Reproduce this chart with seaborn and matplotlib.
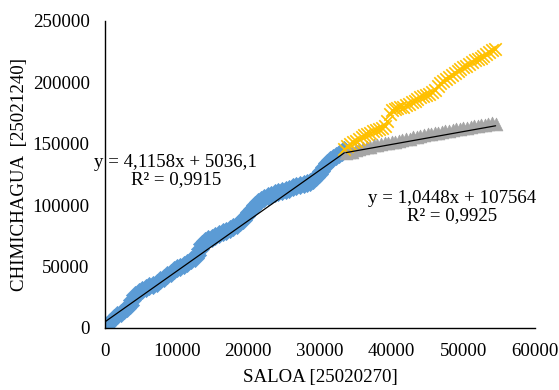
import matplotlib
matplotlib.use("Agg")
import matplotlib.pyplot as plt
import seaborn as sns
import pandas as pd
import numpy as np

# ---- data ----
blue_x = [0, 300, 700, 1200, 1700, 2200, 2700, 3100, 3500, 3800, 4200, 4700, 5200, 5700,
          6200, 6700, 7200, 7700, 8200, 8700, 9200, 9600, 10000, 10500, 11000, 11500,
          12000, 12500, 12900, 13200, 13500, 13900, 14400, 14900, 15400, 15900, 16400,
          16900, 17400, 17900, 18400, 18900, 19300, 19700, 20100, 20500, 20900, 21300,
          21700, 22200, 22700, 23200, 23700, 24200, 24700, 25200, 25700, 26200, 26700,
          27200, 27700, 28200, 28600, 29000, 29400, 29800, 30200, 30600, 31000, 31400,
          31800, 32200, 32600, 33000, 33400]
blue_y = [0, 2500, 5000, 8000, 10500, 12500, 14500, 16500, 19000, 23000, 26500, 29000,
          31000, 32500, 34000, 35000, 37000, 39000, 41000, 43000, 45000, 47500, 49000,
          49500, 51000, 53000, 55000, 57000, 59500, 64000, 68000, 70500, 72000, 73500,
          75000, 76500, 78000, 79000, 80500, 82500, 84000, 86000, 88000, 91000, 94000,
          97000, 100000, 102500, 104500, 106000, 107500, 108500, 109500, 111000, 111500,
          112500, 113000, 114500, 115500, 116500, 117500, 118000, 118500, 120000, 122500,
          125000, 128000, 131000, 134000, 136500, 138500, 140000, 141500, 143000, 144500]

grey_x = [33600, 34000, 34500, 35000, 35500, 36000, 36500, 37000, 37500, 38000, 38500,
          39000, 39500, 40000, 40500, 41000, 41500, 42000, 42500, 43000, 43500, 44000,
          44500, 45000, 45500, 46000, 46500, 47000, 47500, 48000, 48500, 49000, 49500,
          50000, 50500, 51000, 51500, 52000, 52500, 53000, 53500, 54000, 54500]
grey_y = [142500, 143000, 143500, 144500, 145500, 146500, 147000, 147500, 148500, 149000,
          149500, 150500, 150500, 151000, 151500, 152500, 153000, 153500, 154000, 155000,
          155500, 156500, 157000, 157500, 158000, 158500, 159000, 159500, 160000, 160500,
          161000, 161500, 162000, 162500, 163000, 163500, 164000, 164500, 165000, 165500,
          166000, 166500, 166000]

yellow_x = [33400, 33800, 34200, 34600, 35000, 35400, 35800, 36200, 36600, 37000, 37400,
            37800, 38200, 38600, 39000, 39400, 39700, 40000, 40400, 40800, 41200, 41600,
            42000, 42400, 42800, 43200, 43600, 44000, 44400, 44800, 45200, 45600, 46000,
            46400, 46800, 47200, 47600, 48000, 48400, 48800, 49200, 49600, 50000, 50400,
            50800, 51200, 51600, 52000, 52400, 52800, 53200, 53600, 54000, 54400]
yellow_y = [146000, 148000, 149500, 151000, 152500, 154000, 155500, 157000, 158000, 159000,
            160000, 161000, 162000, 163000, 164500, 168000, 174000, 177500, 178500, 179000,
            179500, 180000, 181500, 182500, 183500, 185000, 186500, 188000, 189000, 189500,
            190500, 192000, 194000, 196500, 199000, 201000, 202500, 204000, 205500, 207500,
            209000, 210500, 212000, 213500, 215000, 216500, 218000, 219000, 220000, 221500,
            223000, 224500, 226000, 227000]

# trendline coefficients (from the equations printed on the chart)
trend_slope = [4.1158, 1.0448]
trend_intercept = [5036.1, 107564]
trend_text = ["y = 4,1158x + 5036,1\nR² = 0,9915", "y = 1,0448x + 107564\nR² = 0,9925"]

x_ticks = [0, 10000, 20000, 30000, 40000, 50000, 60000]
y_ticks = [0, 50000, 100000, 150000, 200000, 250000]
x_label = "SALOA [25020270]"
y_label = "CHIMICHAGUA  [25021240]"

# ---- styling ----
sns.set_theme(style="white")
plt.rcParams["font.family"] = ["Liberation Serif", "DejaVu Serif"]

BLUE = "#5B9BD5"
GREY = "#A5A5A5"
YELLOW = "#FFC000"
FS = 13.6

W, H = 559, 390
fig = plt.figure(figsize=(W / 100, H / 100), dpi=100)
ax = fig.add_axes([105 / W, 1 - 328 / H, (535 - 105) / W, (328 - 20.7) / H])

df_b = pd.DataFrame({"x": blue_x, "y": blue_y})
df_g = pd.DataFrame({"x": grey_x, "y": grey_y})
df_y = pd.DataFrame({"x": yellow_x, "y": yellow_y})

sns.scatterplot(data=df_b, x="x", y="y", ax=ax, marker="D", s=85, color=BLUE,
                edgecolor=BLUE, linewidth=0.5, zorder=2)
sns.scatterplot(data=df_g, x="x", y="y", ax=ax, marker="^", s=85, color=GREY,
                edgecolor=GREY, linewidth=0.5, zorder=3)
sns.scatterplot(data=df_y, x="x", y="y", ax=ax, marker="x", s=80, color=YELLOW,
                linewidth=1.2, zorder=4)

# trendlines
for xs, m, b in [(blue_x, trend_slope[0], trend_intercept[0]),
                 (grey_x, trend_slope[1], trend_intercept[1])]:
    xr = np.array([min(xs), max(xs)], dtype=float)
    sns.lineplot(x=xr, y=m * xr + b, ax=ax, color="black", linewidth=0.9, zorder=5)

ax.set_xlim(0, 60000)
ax.set_ylim(0, 250000)
ax.set_xticks(x_ticks)
ax.set_yticks(y_ticks)
ax.set_xticklabels([str(v) for v in x_ticks])
ax.set_yticklabels([str(v) for v in y_ticks])
ax.tick_params(axis="y", length=0, labelsize=FS, colors="black", pad=11)
ax.tick_params(axis="x", length=0, labelsize=FS, colors="black", pad=11)
ax.set_xlabel(x_label, fontsize=FS, color="black", labelpad=6)
ax.set_ylabel(y_label, fontsize=FS, color="black", labelpad=3)

for side in ["top", "right"]:
    ax.spines[side].set_visible(False)
for side in ["left", "bottom"]:
    ax.spines[side].set_color("black")
    ax.spines[side].set_linewidth(1.0)
ax.grid(False)

fig.text(176 / W, 1 - 171 / H, trend_text[0], ha="center", va="center",
         fontsize=FS, linespacing=1.0, color="black")
fig.text(452 / W, 1 - 207 / H, trend_text[1], ha="center", va="center",
         fontsize=FS, linespacing=1.0, color="black")

fig.savefig("out.png", dpi=100)
